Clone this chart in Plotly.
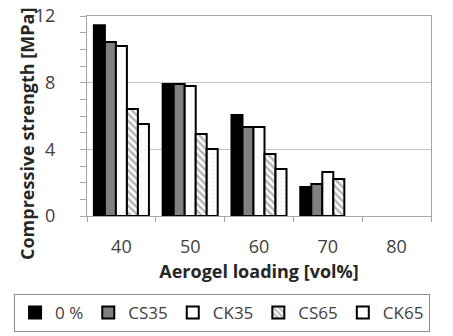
import plotly.graph_objects as go

# Aerogel loading categories (vol%)
loading = ["40", "50", "60", "70", "80"]

# Compressive strength [MPa] for each series
s_0 = [11.45, 7.92, 6.06, 1.74, None]
s_cs35 = [10.44, 7.92, 5.34, 1.92, None]
s_ck35 = [10.20, 7.80, 5.34, 2.64, None]
s_cs65 = [6.42, 4.92, 3.72, 2.22, None]
s_ck65 = [5.52, 4.02, 2.82, None, None]

names = ["0 %", "CS35", "CK35", "CS65", "CK65"]
values = [s_0, s_cs35, s_ck35, s_cs65, s_ck65]
fills = ["#000000", "#808080", "#ffffff", "#ffffff", "#ffffff"]
patterns = [
    dict(shape=""),
    dict(shape=""),
    dict(shape=""),
    dict(shape="\\", fgcolor="#6e6e6e", bgcolor="#ffffff", size=5, solidity=0.5),
    dict(shape=".", fgcolor="#dcdcdc", bgcolor="#ffffff", size=4, solidity=0.15),
]

FONT = "Open Sans"
TXT = "#404040"
AX = "#a6a6a6"

fig = go.Figure()
for nm, v, c, p in zip(names, values, fills, patterns):
    fig.add_trace(go.Bar(
        x=loading, y=v, name=nm,
        marker=dict(color=c, line=dict(color="#000000", width=2), pattern=p),
    ))

fig.update_layout(
    width=453, height=336,
    margin=dict(l=87, r=22, t=16, b=120, autoexpand=False),
    paper_bgcolor="white", plot_bgcolor="white",
    barmode="group", bargap=0.2, bargroupgap=0,
    font=dict(family=FONT, color=TXT, size=15),
    showlegend=True,
    legend=dict(
        orientation="h", xref="paper", yref="paper",
        x=-0.212, xanchor="left", y=-0.39, yanchor="top",
        bordercolor="#8c8c8c", borderwidth=1,
        font=dict(family=FONT, size=17, color=TXT),
        itemwidth=30, traceorder="normal",
    ),
    annotations=[
        dict(
            text="<b>Compressive strength [MPa]</b>", textangle=-90,
            xref="paper", yref="paper",
            x=-0.1744, y=0.41, xanchor="center", yanchor="middle",
            showarrow=False,
            font=dict(family=FONT, size=18, color="#262626"),
        ),
    ],
)

fig.update_xaxes(
    type="category", tickson="boundaries",
    ticks="outside", ticklen=5, tickcolor=AX,
    ticklabelstandoff=14,
    showline=True, linecolor=AX, linewidth=1, mirror=True,
    showgrid=False,
    tickfont=dict(family=FONT, size=18, color=TXT),
    title=dict(text="<b>Aerogel loading [vol%]</b>", standoff=8,
               font=dict(family=FONT, size=18, color="#262626")),
)

fig.update_yaxes(
    range=[0, 12], dtick=4, tick0=0,
    ticks="outside", ticklen=6, tickcolor=AX,
    ticklabelstandoff=21,
    minor=dict(dtick=1, ticks="outside", ticklen=6, tickcolor=AX, showgrid=False),
    showline=True, linecolor=AX, linewidth=1, mirror=True,
    showgrid=True, gridcolor="#c4c4c4", gridwidth=1,
    zeroline=False,
    tickfont=dict(family=FONT, size=18, color=TXT),
)

fig.write_html("out.html")
